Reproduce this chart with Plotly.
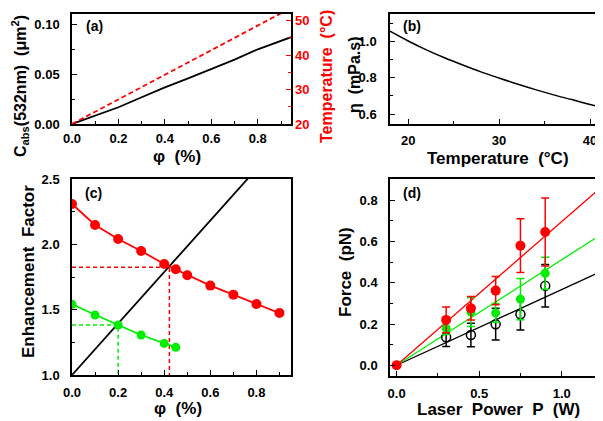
import plotly.graph_objects as go

# ---------------- data ----------------
# (a)
phi_a = [0.0, 0.1, 0.2, 0.3, 0.4, 0.5, 0.6, 0.7, 0.8, 0.943]
cabs_a = [0.0, 0.0085, 0.0169, 0.027, 0.037, 0.046, 0.0552, 0.065, 0.0754, 0.0876]
phi_temp = [0.0, 0.95]
temp_a = [20.0, 53.9]
# (b)
temp_b = [18, 20, 22, 24, 26, 28, 30, 32, 34, 36, 38, 40, 42]
eta_b = [1.058, 1.004, 0.955, 0.911, 0.871, 0.833, 0.799, 0.766, 0.735, 0.706, 0.680, 0.653, 0.628]
# (c)
phi_red = [0.0, 0.1, 0.2, 0.3, 0.4, 0.45, 0.5, 0.6, 0.7, 0.8, 0.9]
enh_red = [2.309, 2.148, 2.041, 1.949, 1.849, 1.809, 1.763, 1.684, 1.615, 1.543, 1.474]
phi_green = [0.0, 0.1, 0.2, 0.3, 0.4, 0.45]
enh_green = [1.541, 1.459, 1.383, 1.306, 1.242, 1.212]
phi_black = [0.0, 0.95]
enh_black = [1.0, 2.872]
red_guide_x = [0.0, 0.4225, 0.4225]
red_guide_y = [1.824, 1.824, 1.0]
green_guide_x = [0.0, 0.2, 0.2]
green_guide_y = [1.383, 1.383, 1.0]
# (d)
power = [0.3, 0.45, 0.6, 0.75, 0.9]
force_black = [0.136, 0.147, 0.199, 0.247, 0.385]
err_black = [0.045, 0.057, 0.077, 0.076, 0.103]
force_green = [0.179, 0.258, 0.254, 0.321, 0.446]
err_green = [0.03, 0.07, 0.045, 0.1, 0.078]
force_red = [0.220, 0.276, 0.362, 0.580, 0.646]
err_red = [0.062, 0.057, 0.068, 0.13, 0.165]
origin_p = [0.0]
origin_f = [0.0]
fit_p = [0.0, 1.3]
fit_black = [0.0, 0.477]
fit_green = [0.0, 0.665]
fit_red = [0.0, 0.905]

RED = "#ff0000"
GREEN = "#00ee00"
FONT = "Liberation Sans, Arial, sans-serif"

fig = go.Figure()

# (a)
fig.add_trace(go.Scatter(x=phi_a, y=cabs_a, mode="lines", line=dict(color="black", width=1.8),
                         xaxis="x", yaxis="y", showlegend=False))
fig.add_trace(go.Scatter(x=phi_temp, y=temp_a, mode="lines", line=dict(color=RED, width=1.8, dash="5px,3px"),
                         xaxis="x", yaxis="y5", showlegend=False))
# (b)
fig.add_trace(go.Scatter(x=temp_b, y=eta_b, mode="lines", line=dict(color="black", width=1.5, shape="spline"),
                         xaxis="x2", yaxis="y2", showlegend=False))
# (c)
fig.add_trace(go.Scatter(x=red_guide_x, y=red_guide_y, mode="lines", line=dict(color=RED, width=1.5, dash="4px,3px"),
                         xaxis="x3", yaxis="y3", showlegend=False))
fig.add_trace(go.Scatter(x=green_guide_x, y=green_guide_y, mode="lines", line=dict(color=GREEN, width=1.5, dash="4px,3px"),
                         xaxis="x3", yaxis="y3", showlegend=False))
fig.add_trace(go.Scatter(x=phi_black, y=enh_black, mode="lines", line=dict(color="black", width=1.8),
                         xaxis="x3", yaxis="y3", showlegend=False))
fig.add_trace(go.Scatter(x=phi_red, y=enh_red, mode="lines+markers", line=dict(color=RED, width=1.8),
                         marker=dict(color=RED, size=10), xaxis="x3", yaxis="y3", showlegend=False))
fig.add_trace(go.Scatter(x=phi_green, y=enh_green, mode="lines+markers", line=dict(color=GREEN, width=1.8),
                         marker=dict(color=GREEN, size=9), xaxis="x3", yaxis="y3", showlegend=False))
# (d)
fig.add_trace(go.Scatter(x=fit_p, y=fit_black, mode="lines", line=dict(color="black", width=1.3),
                         xaxis="x4", yaxis="y4", showlegend=False))
fig.add_trace(go.Scatter(x=fit_p, y=fit_green, mode="lines", line=dict(color=GREEN, width=1.3),
                         xaxis="x4", yaxis="y4", showlegend=False))
fig.add_trace(go.Scatter(x=fit_p, y=fit_red, mode="lines", line=dict(color=RED, width=1.3),
                         xaxis="x4", yaxis="y4", showlegend=False))
fig.add_trace(go.Scatter(x=power, y=force_black, mode="markers",
                         marker=dict(color="black", size=9, symbol="circle-open", line=dict(color="black", width=1.5)),
                         error_y=dict(type="data", array=err_black, color="black", thickness=1.5, width=4),
                         xaxis="x4", yaxis="y4", showlegend=False))
fig.add_trace(go.Scatter(x=power, y=force_green, mode="markers",
                         marker=dict(color=GREEN, size=9),
                         error_y=dict(type="data", array=err_green, color=GREEN, thickness=1.5, width=4),
                         xaxis="x4", yaxis="y4", showlegend=False))
fig.add_trace(go.Scatter(x=power, y=force_red, mode="markers",
                         marker=dict(color=RED, size=10),
                         error_y=dict(type="data", array=err_red, color=RED, thickness=1.5, width=4),
                         xaxis="x4", yaxis="y4", showlegend=False))
fig.add_trace(go.Scatter(x=origin_p, y=origin_f, mode="markers", marker=dict(color=RED, size=10),
                         xaxis="x4", yaxis="y4", showlegend=False))

W, H = 603, 421
OX, OY = 8, 8  # page body margin offset
def px_x(a, b):
    return [(a - OX) / W, (b - OX) / W]
def px_y(top, bot):
    return [1 - (bot - OY) / H, 1 - (top - OY) / H]

tickfont = dict(family=FONT, size=13, color="black", weight="bold")

def ax(domain, rng, dtick, minor_dtick, anchor, mirror=True, tickformat=None, **kw):
    d = dict(domain=domain, range=rng, dtick=dtick, tick0=0, anchor=anchor, automargin=False,
             showline=True, linecolor="black", linewidth=1.5, mirror=mirror,
             ticks="inside", ticklen=5, tickwidth=1.2, tickcolor="black",
             minor=dict(ticks="inside", ticklen=3, dtick=minor_dtick, tickcolor="black", tickwidth=1.2),
             showgrid=False, zeroline=False, tickfont=tickfont, ticklabelstandoff=3)
    if tickformat:
        d["tickformat"] = tickformat
    d.update(kw)
    return d

fig.update_layout(
    template="none",
    width=W, height=H, margin=dict(l=0, r=0, t=0, b=0, pad=0),
    plot_bgcolor="white", paper_bgcolor="white",
    font=dict(family=FONT, color="black"),
    xaxis=ax(px_x(72, 291), [0, 0.943], 0.2, 0.1, "y", tickformat=".1f", ticklabelstandoff=2),
    yaxis=ax(px_y(14, 124), [0, 0.111], 0.05, 0.025, "x", tickformat=".2f", ticklabelstandoff=8),
    yaxis5=dict(overlaying="y", side="right", anchor="x", range=[20, 51.9], dtick=10, tick0=0,
                automargin=False,
                showline=False, ticks="inside", ticklen=5, tickwidth=1.2, tickcolor=RED,
                minor=dict(ticks="inside", ticklen=3, dtick=5, tickcolor=RED, tickwidth=1.2),
                showgrid=False, zeroline=False,
                tickfont=dict(family=FONT, size=13, color=RED, weight="bold"), ticklabelstandoff=3),
    xaxis2=ax(px_x(390, 603), [18, 41.43], 10, 5, "y2", ticklabelstandoff=4),
    yaxis2=ax(px_y(14, 124), [0.545, 1.153], 0.2, 0.1, "x2", tickformat=".1f", ticklabelstandoff=9),
    xaxis3=ax(px_x(72, 291), [0, 0.95], 0.2, 0.1, "y3", tickformat=".1f", ticklabelstandoff=5),
    yaxis3=ax(px_y(179, 375), [1.0, 2.5], 0.5, 0.25, "x3", tickformat=".1f", ticklabelstandoff=8),
    xaxis4=ax(px_x(390, 603), [-0.04, 1.25], 0.5, 0.25, "y4", tickformat=".1f", ticklabelstandoff=5),
    yaxis4=ax(px_y(179, 376), [-0.052, 0.903], 0.2, 0.1, "x4", tickformat=".1f", ticklabelstandoff=8),
)

def ann(text, x, y, angle=0, color="black", size=17, bold=True):
    fig.add_annotation(text=text, x=(x - OX) / W, y=1 - (y - OY) / H, xref="paper", yref="paper",
                       showarrow=False, textangle=angle, xanchor="center", yanchor="middle",
                       font=dict(family=FONT, size=size, color=color, weight="bold" if bold else "normal"))

# panel labels
ann("(a)", 94, 26, size=14)
ann("(b)", 412, 26, size=14)
ann("(c)", 93, 193, size=14)
ann("(d)", 412, 193, size=14)
# axis titles
ann("C<sub>abs</sub>(532nm)  (μm<sup>2</sup>)", 20, 86, angle=-90, size=16)
ann("φ  (%)", 177, 156)
ann("Temperature  (°C)", 326, 77, angle=-90, color=RED, size=16)
ann("η  (mPa.s)", 355, 75, angle=-90, size=16)
ann("Temperature  (°C)", 498, 158)
ann("Enhancement  Factor", 28, 272, angle=-90)
ann("φ  (%)", 178, 408)
ann("Force  (pN)", 345, 272, angle=-90)
ann("Laser  Power  P  (W)", 498, 409)

fig.write_html("out.html")
